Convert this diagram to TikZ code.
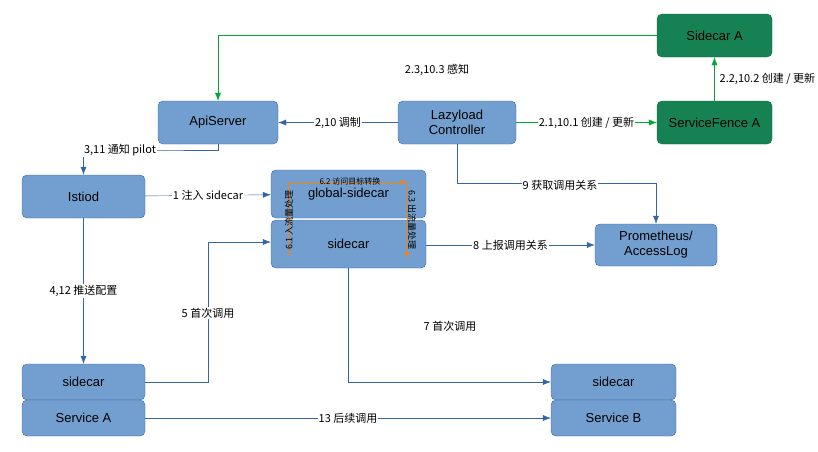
\documentclass[tikz,border=0pt]{standalone}
\usepackage{fontspec}
\setmainfont{Liberation Sans}
\newfontfamily\cjk{Noto Sans CJK SC}
\usetikzlibrary{arrows.meta}
\definecolor{bfill}{HTML}{729FCF}
\definecolor{bline}{HTML}{3465A4}
\definecolor{gfill}{HTML}{168253}
\definecolor{gline}{HTML}{00A933}
\definecolor{org}{HTML}{FF8000}
\begin{document}
\begin{tikzpicture}[x=1pt,y=-1pt,
  box/.style={draw=bline,fill=bfill,rounded corners=5pt,font=\fontsize{13}{15}\selectfont,align=center,inner sep=0pt},
  gbox/.style={box,fill=gfill,draw=gfill!80!black},
  ba/.style={draw=bline,-{Latex[length=8pt,width=6pt]}},
  ga/.style={draw=gline,-{Latex[length=8pt,width=6pt]}},
  lab/.style={font=\cjk\fontsize{11}{13}\selectfont,fill=white,inner sep=1pt},
  lab2/.style={font=\cjk\fontsize{11}{13}\selectfont,inner sep=1pt}]
\useasboundingbox (0,0) rectangle (818,451);
\node[gbox,minimum width=115pt,minimum height=43pt] (sa) at (714.5,35.5) {Sidecar A};
\node[gbox,minimum width=115pt,minimum height=43pt] (sf) at (714.5,122.5) {ServiceFence A};
\node[box,minimum width=120pt,minimum height=43pt] (api) at (218,122.5) {ApiServer};
\node[box,minimum width=118pt,minimum height=43pt] (lc) at (457,122.5) {Lazyload\\Controller};
\node[box,minimum width=123pt,minimum height=43pt] (ist) at (83.5,196.5) {Istiod};
\node[box,minimum width=155pt,minimum height=48pt] (gs) at (348.5,194) {global-sidecar};
\node[box,minimum width=155pt,minimum height=48pt] (ms) at (348.5,244) {sidecar};
\node[box,minimum width=122pt,minimum height=42pt] (pro) at (656,245) {Prometheus/\\AccessLog};
\node[box,minimum width=123pt,minimum height=36pt] (ls) at (83.5,382) {sidecar};
\node[box,minimum width=123pt,minimum height=36pt] (la) at (83.5,418) {Service A};
\node[box,minimum width=125pt,minimum height=36pt] (rs) at (613.5,382) {sidecar};
\node[box,minimum width=125pt,minimum height=36pt] (rb) at (613.5,418) {Service B};
% arrows
\draw[ba] (lc) -- node[lab]{2,10 调制} (api);
\draw[ga] (lc) -- node[lab]{2.1,10.1 创建 / 更新} (sf);
\draw[ga] (sf) -- node[lab2,right,xshift=4pt]{2.2,10.2 创建 / 更新} (sa);
\draw[ga] (sa.west) -| (api.north);
\node[lab2] (l23) at (437,70) {2.3,10.3 感知};
\draw[ba] (api.south) |- (150,150) -| (ist.north);
\node[lab] (l311) at (120,150) {3,11 通知 pilot};
\draw[ba] (ist) -- node[lab]{1 注入 sidecar} (gs);
\draw[ba] (ist) -- node[lab,pos=0.5]{4,12 推送配置} (ls);
\draw[ba] (ls.east) -| (208,242) -- (ms.west |- 0,242);
\node[lab] (l5) at (208,313) {5 首次调用};
\draw[ba] (ms.south) |- (rs.west);
\node[lab2] (l7) at (450,326) {7 首次调用};
\draw[ba] (ms.east |- 0,245) -- node[lab]{8 上报调用关系} (pro.west |- 0,245);
\draw[ba] (lc.south) |- (656,183) -- (pro.north);
\node[lab] (l9) at (560,185) {9 获取调用关系};
\draw[ba] (la) -- node[lab]{13 后续调用} (rb);
% orange internal path
\coordinate (o1) at (289,256);
\coordinate (o2) at (289,182);
\coordinate (o3) at (407,182);
\coordinate (o4) at (407,258);
\draw[org,thick,-{Latex[length=6pt,width=5pt]}] (o1) -- (o2) -- (o3);
\draw[org,thick,-{Latex[length=6pt,width=5pt]}] (o3) -- (o4);
\node[font=\cjk\fontsize{8}{10}\selectfont,inner sep=0pt] (l62) at (350,181) {6.2 访问目标转换};
\node[font=\cjk\fontsize{9}{10}\selectfont,rotate=90,inner sep=0pt] (l61) at (289,220) {6.1 入流量处理};
\node[font=\cjk\fontsize{9}{10}\selectfont,rotate=-90,inner sep=0pt] (l63) at (412,220) {6.3 出流量处理};
\end{tikzpicture}
\end{document}
